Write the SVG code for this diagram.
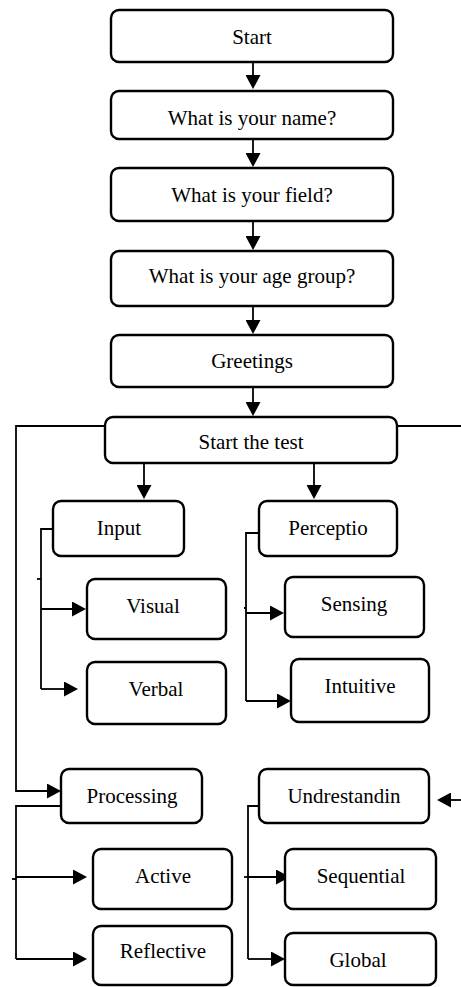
<svg xmlns="http://www.w3.org/2000/svg" width="461" height="987" viewBox="0 0 461 987">
<style>
.box{fill:#fff;stroke:#000;stroke-width:2.4}
.lbl{font-family:"Liberation Serif","Times New Roman",serif;font-size:21px;fill:#000;text-anchor:middle}
.con{fill:none;stroke:#000;stroke-width:1.8}
.arr{marker-end:url(#ah)}
</style>
<defs>
<marker id="ah" markerUnits="userSpaceOnUse" markerWidth="14" markerHeight="15" refX="9" refY="7.5" orient="auto">
<path d="M0,0 L14,7.5 L0,15 z" fill="#000"/>
</marker>
</defs>
<rect width="461" height="987" fill="#fff"/>
<g id="connectors">
<path class="con arr" d="M253,62 V84"/>
<path class="con arr" d="M253,139 V162"/>
<path class="con arr" d="M253,221 V245"/>
<path class="con arr" d="M253,306 V329"/>
<path class="con arr" d="M253,387 V411"/>
<path class="con arr" d="M144,463 V494"/>
<path class="con arr" d="M314,463 V494"/>
<path class="con arr" d="M105,426 H16 V791 H56"/>
<path class="con" d="M397,426 H461"/>
<path class="con arr" d="M461,800 H442"/>
<path class="con" d="M53,529 H41 V689"/>
<path class="con" d="M37,579 H41"/>
<path class="con arr" d="M41,609 H81"/>
<path class="con arr" d="M41,689 H73"/>
<path class="con" d="M259,533 H246 V701"/>
<path class="con" d="M244,608 H246"/>
<path class="con arr" d="M246,613 H279"/>
<path class="con arr" d="M246,701 H286"/>
<path class="con" d="M66,806 H16 V959"/>
<path class="con" d="M12,879 H16"/>
<path class="con arr" d="M16,877 H82"/>
<path class="con arr" d="M16,959 H82"/>
<path class="con" d="M259,806 H248 V959"/>
<path class="con" d="M244,877 H248"/>
<path class="con arr" d="M248,877 H285"/>
<path class="con arr" d="M248,959 H280"/>
</g>
<g id="start"><rect class="box" x="111" y="10" width="282" height="52" rx="8"/><text class="lbl" x="252" y="44">Start</text></g>
<g id="name"><rect class="box" x="111" y="91" width="282" height="48" rx="8"/><text class="lbl" x="252" y="125">What is your name?</text></g>
<g id="field"><rect class="box" x="111" y="168" width="282" height="53" rx="8"/><text class="lbl" x="252" y="202">What is your field?</text></g>
<g id="age"><rect class="box" x="111" y="251" width="282" height="55" rx="8"/><text class="lbl" x="252" y="283">What is your age group?</text></g>
<g id="greetings"><rect class="box" x="111" y="335" width="282" height="52" rx="8"/><text class="lbl" x="252" y="368">Greetings</text></g>
<g id="starttest"><rect class="box" x="105" y="417" width="292" height="46" rx="8"/><text class="lbl" x="251" y="449">Start the test</text></g>
<g id="input"><rect class="box" x="53" y="501" width="131" height="55" rx="8"/><text class="lbl" x="119" y="535">Input</text></g>
<g id="perceptio"><rect class="box" x="259" y="501" width="138" height="55" rx="8"/><text class="lbl" x="328" y="535">Perceptio</text></g>
<g id="visual"><rect class="box" x="87" y="579" width="139" height="60" rx="8"/><text class="lbl" x="153" y="613">Visual</text></g>
<g id="verbal"><rect class="box" x="87" y="662" width="139" height="62" rx="8"/><text class="lbl" x="156" y="696">Verbal</text></g>
<g id="sensing"><rect class="box" x="285" y="577" width="139" height="60" rx="8"/><text class="lbl" x="354" y="611">Sensing</text></g>
<g id="intuitive"><rect class="box" x="291" y="659" width="138" height="63" rx="8"/><text class="lbl" x="360" y="693">Intuitive</text></g>
<g id="processing"><rect class="box" x="61" y="769" width="141" height="54" rx="8"/><text class="lbl" x="132" y="803">Processing</text></g>
<g id="undrestandin"><rect class="box" x="259" y="769" width="170" height="54" rx="8"/><text class="lbl" x="344" y="803">Undrestandin</text></g>
<g id="active"><rect class="box" x="93" y="849" width="139" height="60" rx="8"/><text class="lbl" x="163" y="883">Active</text></g>
<g id="sequential"><rect class="box" x="285" y="849" width="151" height="60" rx="8"/><text class="lbl" x="361" y="883">Sequential</text></g>
<g id="reflective"><rect class="box" x="93" y="926" width="139" height="59" rx="8"/><text class="lbl" x="163" y="958">Reflective</text></g>
<g id="global"><rect class="box" x="285" y="933" width="151" height="52" rx="8"/><text class="lbl" x="358" y="967">Global</text></g>
</svg>
